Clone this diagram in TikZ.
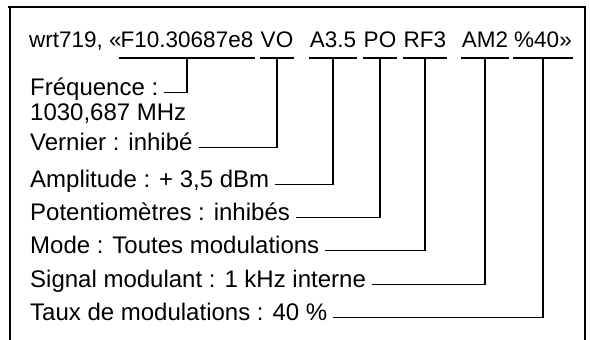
\documentclass[tikz,border=0pt]{standalone}
\usepackage{fontspec}
\setmainfont{Liberation Sans}
\begin{document}
\begin{tikzpicture}[x=1pt,y=-1pt,
  lbl/.style={anchor=base west,inner sep=0pt,font=\fontsize{24}{28}\selectfont},
  code/.style={anchor=base,inner sep=0pt,font=\fontsize{22.5}{26}\selectfont},
  frame/.style={line width=2pt},
  conn/.style={line width=1.4pt},
  uline/.style={line width=1.4pt}]
\useasboundingbox (0,0) rectangle (590,340);
% frame
\draw[frame] (8,7) -- (586,7);
\draw[frame] (10,6) -- (10,340);
\draw[line width=1.2pt] (585,7) -- (585,340);
% title pieces
\coordinate (ul) at (0,58);
\node[code,anchor=base west] (t0) at (29,47) {wrt719, «};
\node[code] (cF) at (187,47) {F10.30687e8};
\node[code] (cV) at (277,47) {VO};
\node[code] (cA) at (333,47) {A3.5};
\node[code] (cP) at (380,47) {PO};
\node[code] (cR) at (425,47) {RF3};
\node[code] (cM) at (485,47) {AM2};
\node[code] (cT) at (543,47) {\%40»};
\foreach \c in {cF,cV,cA,cP,cR,cM,cT}
  \draw[uline] ([xshift=-1pt]\c.west |- ul) -- ([xshift=1pt]\c.east |- ul);
% labels
\node[lbl] (freq) at (30,95) {Fréquence :};
\node[lbl] (freqv) at (30,120) {1030,687 MHz};
\node[lbl] (vern) at (30,150) {Vernier : inhibé};
\node[lbl] (ampl) at (30,187) {Amplitude : + 3,5 dBm};
\node[lbl] (pot) at (30,220) {Potentiomètres : inhibés};
\node[lbl] (mode) at (30,253) {Mode : Toutes modulations};
\node[lbl] (sig) at (30,287) {Signal modulant : 1 kHz interne};
\node[lbl] (taux) at (30,320) {Taux de modulations : 40 \%};
% connectors
\draw[conn] ([xshift=6pt]freq.mid east) -| (cF.center |- ul);
\draw[conn] ([xshift=6pt]vern.mid east) -| (cV.center |- ul);
\draw[conn] ([xshift=6pt]ampl.mid east) -| (cA.center |- ul);
\draw[conn] ([xshift=6pt]pot.mid east) -| (cP.center |- ul);
\draw[conn] ([xshift=6pt]mode.mid east) -| (cR.center |- ul);
\draw[conn] ([xshift=6pt]sig.mid east) -| (cM.center |- ul);
\draw[conn] ([xshift=6pt]taux.mid east) -| (cT.center |- ul);
\end{tikzpicture}
\end{document}
